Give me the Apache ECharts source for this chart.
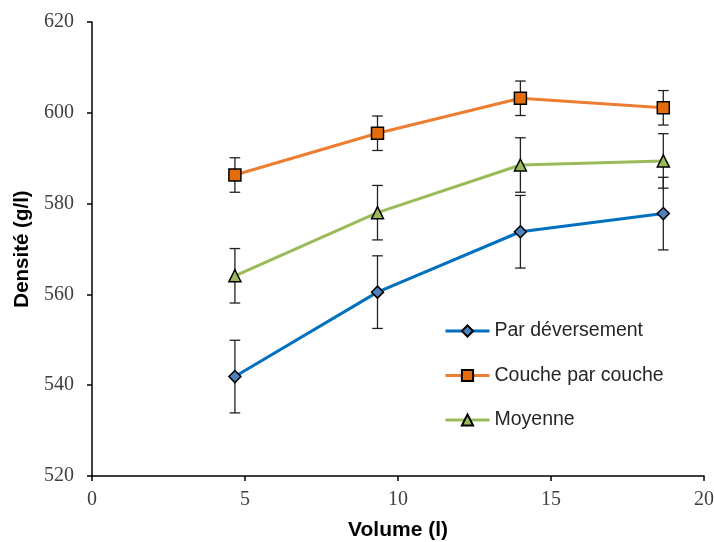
<!DOCTYPE html>
<html>
<head>
<meta charset="utf-8">
<script src="https://cdn.jsdelivr.net/npm/echarts@6/dist/echarts.min.js"></script>
<style>html,body{margin:0;padding:0;background:#fff}#c{width:714px;height:542px}</style>
</head>
<body>
<div id="c"></div>
<script>
const volumes = [4.67, 9.33, 14.0, 18.67];
const seriesNames = ['Par déversement', 'Couche par couche', 'Moyenne'];
const deversement = [541.9, 560.5, 573.8, 577.8];
const deversementErr = [8, 8, 8, 8];
const coucheParCouche = [586.3, 595.5, 603.2, 601.1];
const coucheErr = [3.8, 3.8, 3.8, 3.8];
const moyenne = [564.1, 578.0, 588.5, 589.4];
const moyenneErr = [6, 6, 6, 6];
const xTicks = [0, 5, 10, 15, 20];
const yTicks = [520, 540, 560, 580, 600, 620];

const pts = (ys) => volumes.map((x, i) => [x, ys[i]]);
const errPts = (ys, es) => volumes.map((x, i) => [x, ys[i] - es[i], ys[i] + es[i]]);

function errorBar(params, api) {
  const x = api.value(0);
  const lo = api.coord([x, api.value(1)]);
  const hi = api.coord([x, api.value(2)]);
  const w = 5.3;
  const st = { stroke: '#222', lineWidth: 1.3 };
  return {
    type: 'group',
    children: [
      { type: 'line', shape: { x1: lo[0], y1: lo[1], x2: hi[0], y2: hi[1] }, style: st },
      { type: 'line', shape: { x1: lo[0] - w, y1: lo[1], x2: lo[0] + w, y2: lo[1] }, style: st },
      { type: 'line', shape: { x1: hi[0] - w, y1: hi[1], x2: hi[0] + w, y2: hi[1] }, style: st }
    ]
  };
}

const lineSeries = (name, ys, lineColor, fill, symbol, size) => ({
  name, type: 'line', data: pts(ys), symbol, symbolSize: size, z: 5,
  lineStyle: { color: lineColor, width: 3 },
  itemStyle: { color: fill, borderColor: '#000', borderWidth: 1.5 },
  emphasis: { disabled: true }, animation: false
});
const errSeries = (ys, es) => ({
  type: 'custom', renderItem: errorBar, data: errPts(ys, es), z: 3,
  encode: { x: 0, y: [1, 2] }, animation: false, silent: true
});

const chart = echarts.init(document.getElementById('c'));
chart.setOption({
  animation: false,
  grid: { left: 92, right: 10, top: 22, bottom: 66, containLabel: false, outerBoundsMode: 'none' },
  xAxis: {
    type: 'value', min: xTicks[0], max: xTicks[xTicks.length - 1], interval: 5,
    name: 'Volume (l)', nameLocation: 'middle', nameGap: 44,
    nameTextStyle: { fontFamily: 'Liberation Sans', fontWeight: 'bold', fontSize: 21, color: '#000' },
    axisLine: { lineStyle: { color: '#000', width: 1.5 } },
    axisTick: { show: true, length: 5, lineStyle: { color: '#000', width: 1.5 } },
    axisLabel: { margin: 14, fontFamily: 'Liberation Serif', fontSize: 20, color: '#404040' },
    splitLine: { show: false }
  },
  yAxis: {
    type: 'value', min: yTicks[0], max: yTicks[yTicks.length - 1], interval: 20,
    name: 'Densité (g/l)', nameLocation: 'middle', nameGap: 58, nameRotate: 90,
    nameTextStyle: { fontFamily: 'Liberation Sans', fontWeight: 'bold', fontSize: 20.5, color: '#000' },
    axisLine: { show: true, lineStyle: { color: '#000', width: 1.5 } },
    axisTick: { show: true, length: 5, lineStyle: { color: '#000', width: 1.5 } },
    axisLabel: { margin: 18, fontFamily: 'Liberation Serif', fontSize: 20, color: '#404040' },
    splitLine: { show: false }
  },
  legend: {
    data: seriesNames, orient: 'vertical', left: 439, top: 316,
    itemWidth: 44, itemHeight: 14, itemGap: 24.5,
    lineStyle: { width: 3 },
    textStyle: { fontFamily: 'Liberation Sans', fontSize: 19.5, color: '#262626', lineHeight: 20 }
  },
  series: [
    errSeries(deversement, deversementErr),
    errSeries(coucheParCouche, coucheErr),
    errSeries(moyenne, moyenneErr),
    lineSeries(seriesNames[0], deversement, '#0070C0', '#4F81BD', 'diamond', 12),
    lineSeries(seriesNames[1], coucheParCouche, '#ED7D31', '#E46C0A', 'rect', 12),
    lineSeries(seriesNames[2], moyenne, '#9BBB59', '#9BBB59', 'triangle', 12)
  ]
});
</script>
</body>
</html>
